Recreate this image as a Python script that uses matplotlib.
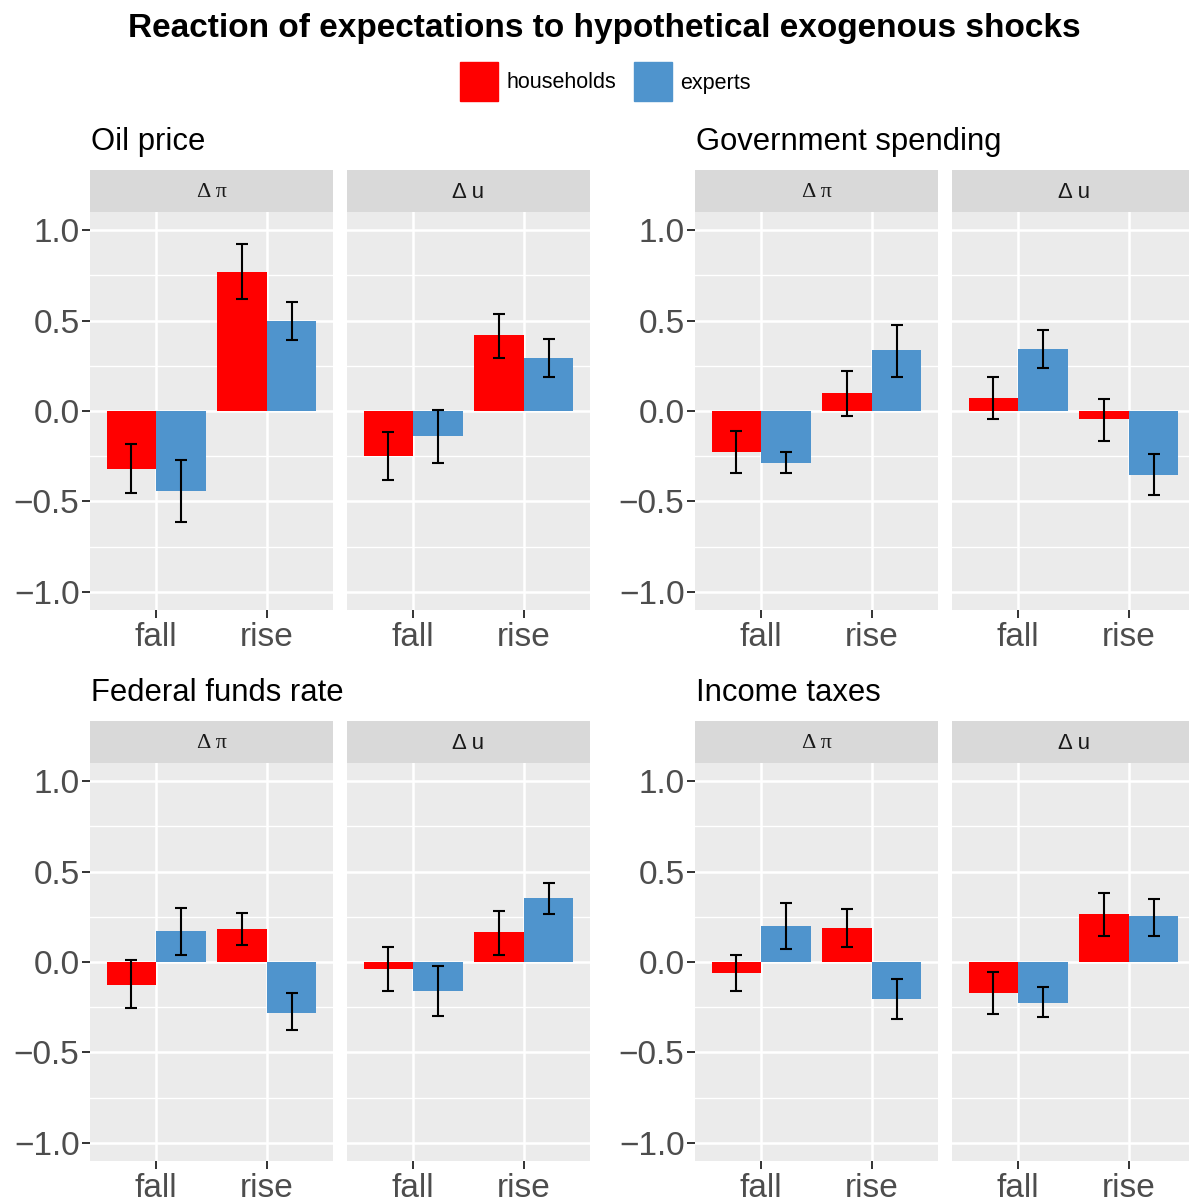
import numpy as np
import matplotlib
matplotlib.use("Agg")
import matplotlib.pyplot as plt
from matplotlib.patches import Rectangle

plt.rcParams['font.family'] = ['Liberation Sans', 'DejaVu Sans']

# shocks (one block of two facets each) and facet / category labels
shocks = ['Oil price', 'Government spending', 'Federal funds rate', 'Income taxes']
facets = ['Δ π', 'Δ u']
directions = ['fall', 'rise']
groups = ['households', 'experts']

# columns: [Δπ fall, Δπ rise, Δu fall, Δu rise], one row per shock
hh_mean = [[-0.32, 0.77, -0.25, 0.42],
           [-0.225, 0.10, 0.07, -0.045],
           [-0.125, 0.185, -0.04, 0.165],
           [-0.06, 0.19, -0.17, 0.265]]
hh_lo = [[-0.455, 0.62, -0.38, 0.295],
         [-0.34, -0.025, -0.045, -0.165],
         [-0.255, 0.095, -0.16, 0.04],
         [-0.16, 0.085, -0.285, 0.145]]
hh_hi = [[-0.185, 0.925, -0.115, 0.535],
         [-0.11, 0.22, 0.19, 0.065],
         [0.01, 0.27, 0.085, 0.28],
         [0.04, 0.295, -0.055, 0.38]]

ex_mean = [[-0.44, 0.50, -0.14, 0.295],
           [-0.285, 0.335, 0.345, -0.355],
           [0.17, -0.28, -0.16, 0.355],
           [0.20, -0.205, -0.225, 0.255]]
ex_lo = [[-0.615, 0.395, -0.29, 0.19],
         [-0.345, 0.19, 0.24, -0.465],
         [0.04, -0.375, -0.30, 0.265],
         [0.07, -0.315, -0.305, 0.145]]
ex_hi = [[-0.27, 0.605, 0.005, 0.40],
         [-0.225, 0.475, 0.445, -0.235],
         [0.30, -0.17, -0.02, 0.435],
         [0.325, -0.095, -0.14, 0.35]]

yticks = [-1.0, -0.5, 0.0, 0.5, 1.0]
ytick_labels = ['−1.0', '−0.5', '0.0', '0.5', '1.0']

RED = '#FF0000'
BLUE = '#4F94CD'
PANEL = '#EBEBEB'
STRIP = '#D9D9D9'
TICKCOL = '#4D4D4D'

W, H = 1189, 1199
fig = plt.figure(figsize=(W / 100, H / 100), dpi=100)


def px_axes(x0, y0, x1, y1):
    # axes placed by pixel box (top-left origin)
    return fig.add_axes([x0 / W, 1 - y1 / H, (x1 - x0) / W, (y1 - y0) / H])


# top-left corner of each shock block
origins = [(90, 170), (695, 170), (90, 721), (695, 721)]
panel_w, panel_h, strip_h, gap = 243, 398, 42, 14
bar_w = 0.45
x = np.arange(1, len(directions) + 1)
err_style = dict(fmt='none', ecolor='black', elinewidth=1.5, capsize=4.3,
                 capthick=1.5, zorder=3)

for k, shock in enumerate(shocks):
    qx, qy = origins[k]
    fig.text((qx + 1) / W, 1 - (qy - 28) / H, shock, fontsize=22.3,
             ha='left', va='center', color='black')
    for j, facet in enumerate(facets):
        x0 = qx + j * (panel_w + gap)
        sax = px_axes(x0, qy, x0 + panel_w, qy + strip_h)
        sax.set_facecolor(STRIP)
        sax.set_xticks([])
        sax.set_yticks([])
        for s in sax.spines.values():
            s.set_visible(False)
        sax.text(0.5, 0.46, facet, transform=sax.transAxes, ha='center',
                 va='center', fontsize=16, color='#1A1A1A',
                 family=['Liberation Serif'] if j == 0 else ['Liberation Sans'])

        ax = px_axes(x0, qy + strip_h, x0 + panel_w, qy + strip_h + panel_h)
        ax.set_facecolor(PANEL)
        sl = slice(2 * j, 2 * j + 2)
        hm = np.array(hh_mean[k][sl])
        em = np.array(ex_mean[k][sl])
        hl, hh = np.array(hh_lo[k][sl]), np.array(hh_hi[k][sl])
        el, eh = np.array(ex_lo[k][sl]), np.array(ex_hi[k][sl])

        ax.bar(x - bar_w / 2, hm, bar_w, color=RED, zorder=2)
        ax.bar(x + bar_w / 2, em, bar_w, color=BLUE, zorder=2)
        ax.errorbar(x - bar_w / 2, hm, yerr=[hm - hl, hh - hm], **err_style)
        ax.errorbar(x + bar_w / 2, em, yerr=[em - el, eh - em], **err_style)

        ax.set_xlim(0.4, 2.6)
        ax.set_ylim(-1.1, 1.1)
        ax.set_xticks(x)
        ax.set_xticklabels(directions)
        ax.set_yticks(yticks)
        ax.set_yticks([-0.75, -0.25, 0.25, 0.75], minor=True)
        if j == 0:
            ax.set_yticklabels(ytick_labels)
            ax.tick_params(axis='y', which='major', length=6, width=1.4,
                           color='#333333', labelsize=24, labelcolor=TICKCOL, pad=1.5)
        else:
            ax.tick_params(axis='y', which='major', length=0, labelleft=False)
        ax.tick_params(axis='y', which='minor', length=0)
        ax.tick_params(axis='x', length=6, width=1.4, color='#333333',
                       labelsize=24, labelcolor=TICKCOL, pad=2.5)
        ax.grid(which='major', color='white', linewidth=1.8, zorder=0)
        ax.grid(which='minor', axis='y', color='white', linewidth=1.0, zorder=0)
        ax.set_axisbelow(True)
        for s in ax.spines.values():
            s.set_visible(False)

fig.text(604 / W, 1 - 28 / H, 'Reaction of expectations to hypothetical exogenous shocks',
         fontsize=24, fontweight='bold', ha='center', va='center')

# legend keys
for (kx, tx), label, col in zip([(460, 507), (634, 680)], groups, [RED, BLUE]):
    fig.add_artist(Rectangle((kx / W, 1 - 101 / H), 38 / W, 39 / H,
                             transform=fig.transFigure, color=col))
    fig.text(tx / W, 1 - 83 / H, label, fontsize=15.5, ha='left', va='center')

fig.savefig('out.png', dpi=100)
